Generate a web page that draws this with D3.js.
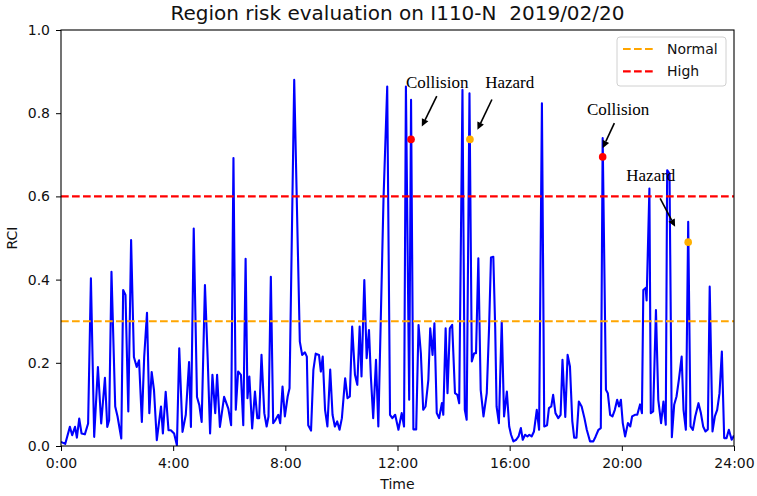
<!DOCTYPE html>
<html>
<head>
<meta charset="utf-8">
<script src="https://cdn.jsdelivr.net/npm/d3@7"></script>
<style>
  body { margin: 0; background: #fff; }
  svg { display: block; font-family: "DejaVu Sans", sans-serif; }
</style>
</head>
<body>
<svg id="chart" width="757" height="496"></svg>
<script>
// RCI readings for the day: [minutes after midnight, RCI]
const rciReadings = [
  [0,0.01],[9,0.005],[19,0.046],[24,0.026],[30,0.046],[34,0.02],[39,0.066],[44,0.03],[51,0.028],[58,0.054],
  [64,0.403],[71,0.022],[79,0.19],[86,0.054],[94,0.164],[99,0.046],[103,0.062],[108,0.419],[116,0.095],[121,0.071],
  [129,0.018],[133,0.375],[138,0.363],[144,0.083],[150,0.495],[156,0.214],[162,0.19],[167,0.206],[173,0.058],[178,0.214],
  [184,0.32],[189,0.079],[194,0.178],[199,0.134],[205,0.014],[214,0.095],[218,0.03],[224,0.13],[230,0.038],[235,0.038],
  [242,0.03],[248,0.002],[253,0.235],[260,0.034],[267,0.075],[274,0.202],[278,0.046],[284,0.523],[291,0.118],[296,0.098],
  [301,0.058],[308,0.387],[314,0.206],[319,0.03],[324,0.171],[330,0.079],[334,0.171],[340,0.046],[349,0.118],[358,0.09],
  [364,0.05],[369,0.692],[374,0.087],[379,0.179],[385,0.171],[390,0.05],[395,0.45],[399,0.115],[403,0.167],[409,0.042],
  [415,0.131],[420,0.067],[424,0.067],[429,0.219],[435,0.079],[440,0.047],[444,0.071],[449,0.407],[454,0.055],[459,0.063],
  [465,0.075],[469,0.055],[474,0.143],[479,0.071],[485,0.119],[489,0.139],[499,0.88],[511,0.251],[516,0.219],[522,0.225],
  [526,0.215],[529,0.05],[535,0.037],[540,0.183],[545,0.222],[552,0.219],[556,0.179],[560,0.215],[565,0.087],[570,0.047],
  [576,0.184],[581,0.075],[586,0.047],[591,0.059],[596,0.039],[601,0.067],[608,0.163],[613,0.115],[618,0.119],[623,0.287],
  [629,0.171],[634,0.147],[639,0.287],[643,0.167],[649,0.399],[654,0.211],[659,0.279],[663,0.167],[668,0.067],[674,0.207],
  [679,0.047],[690,0.591],[698,0.864],[704,0.075],[709,0.067],[715,0.075],[722,0.039],[729,0.079],[734,0.047],[738,0.864],
  [745,0.111],[749,0.832],[754,0.04],[760,0.04],[765,0.291],[770,0.223],[775,0.087],[780,0.095],[786,0.159],[790,0.283],
  [795,0.219],[799,0.295],[804,0.079],[809,0.067],[815,0.103],[818,0.075],[823,0.283],[827,0.127],[832,0.283],[837,0.291],
  [843,0.127],[848,0.123],[852,0.103],[859,0.856],[864,0.087],[868,0.063],[874,0.848],[879,0.203],[884,0.223],[888,0.223],
  [893,0.451],[898,0.135],[904,0.071],[911,0.127],[916,0.287],[920,0.453],[925,0.455],[929,0.287],[932,0.095],[937,0.055],
  [943,0.299],[948,0.071],[954,0.131],[959,0.047],[963,0.027],[968,0.011],[974,0.015],[979,0.023],[984,0.043],[988,0.015],
  [993,0.027],[998,0.023],[1002,0.027],[1007,0.023],[1012,0.035],[1018,0.087],[1023,0.039],[1029,0.824],[1034,0.047],[1040,0.05],
  [1044,0.091],[1049,0.095],[1053,0.123],[1058,0.079],[1064,0.067],[1069,0.075],[1073,0.207],[1079,0.07],[1084,0.219],[1089,0.191],
  [1094,0.06],[1098,0.02],[1103,0.02],[1108,0.107],[1114,0.095],[1120,0.067],[1125,0.039],[1132,0.011],[1139,0.011],[1144,0.023],
  [1150,0.039],[1155,0.043],[1159,0.74],[1166,0.135],[1170,0.127],[1175,0.075],[1180,0.071],[1185,0.087],[1190,0.111],[1194,0.095],
  [1198,0.111],[1202,0.055],[1207,0.023],[1213,0.055],[1218,0.047],[1222,0.071],[1228,0.075],[1233,0.075],[1239,0.1],[1243,0.079],
  [1246,0.375],[1251,0.38],[1253,0.35],[1259,0.619],[1262,0.079],[1267,0.083],[1273,0.327],[1278,0.111],[1284,0.055],[1289,0.107],
  [1294,0.051],[1297,0.663],[1302,0.655],[1307,0.021],[1312,0.099],[1317,0.119],[1322,0.159],[1328,0.215],[1332,0.087],[1337,0.039],
  [1342,0.539],[1347,0.047],[1352,0.039],[1357,0.071],[1364,0.103],[1369,0.08],[1374,0.047],[1379,0.035],[1384,0.04],[1388,0.383],
  [1394,0.035],[1399,0.071],[1404,0.087],[1409,0.127],[1414,0.227],[1419,0.019],[1424,0.019],[1429,0.039],[1435,0.015],[1440,0.025]
];

// Axis ticks
const xTickMinutes = [0, 240, 480, 720, 960, 1200, 1440];
const xTickLabels = ["0:00", "4:00", "8:00", "12:00", "16:00", "20:00", "24:00"];
const yTickValues = [0.0, 0.2, 0.4, 0.6, 0.8, 1.0];

// Risk thresholds
const thresholdNames = ["Normal", "High"];
const thresholdValues = [0.3, 0.6];
const thresholdColors = ["orange", "red"];

// Detected events on the RCI curve
const eventLabels = ["Collision", "Hazard", "Collision", "Hazard"];
const eventMinutes = [749, 875, 1159, 1342];
const eventRci = [0.737, 0.737, 0.695, 0.49];
const eventColors = ["red", "#ffb000", "red", "#ffb000"];

// Annotation text anchors and arrows, in data units
const labelMinutes = [805, 960, 1192, 1262];
const labelRci = [0.873, 0.875, 0.81, 0.651];
const arrowFromMinutes = [804, 922, 1184, 1282];
const arrowFromRci = [0.841, 0.833, 0.776, 0.595];
const arrowToMinutes = [772, 891, 1159, 1314];
const arrowToRci = [0.768, 0.76, 0.716, 0.527];

const svg = d3.select("#chart");
const W = 757, H = 496;
const margin = { top: 30, right: 23, bottom: 50, left: 61 };
const iw = W - margin.left - margin.right;
const ih = H - margin.top - margin.bottom;

const x = d3.scaleLinear().domain([0, 1440]).range([0, iw]);
const y = d3.scaleLinear().domain([0, 1]).range([ih, 0]);

const g = svg.append("g").attr("transform", `translate(${margin.left},${margin.top})`);

svg.append("defs").append("clipPath").attr("id", "plot-clip")
  .append("rect").attr("width", iw).attr("height", ih);

// Axes
const xAxis = g.append("g").attr("transform", `translate(0,${ih})`)
  .call(d3.axisBottom(x).tickValues(xTickMinutes)
    .tickFormat((d, i) => xTickLabels[i]).tickSize(5).tickSizeOuter(0).tickPadding(7));
const yAxis = g.append("g")
  .call(d3.axisLeft(y).tickValues(yTickValues)
    .tickFormat(d3.format(".1f")).tickSize(5).tickSizeOuter(0).tickPadding(6));
[xAxis, yAxis].forEach(a => {
  a.select(".domain").remove();
  a.selectAll(".tick line").attr("stroke", "#000").attr("stroke-width", 1);
  a.selectAll(".tick text").attr("fill", "#111").style("font-size", "14px")
    .style("font-family", "'DejaVu Sans', sans-serif");
});

// RCI curve
const line = d3.line().x(d => x(d[0])).y(d => y(d[1]));
g.append("path").datum(rciReadings)
  .attr("clip-path", "url(#plot-clip)")
  .attr("fill", "none").attr("stroke", "blue")
  .attr("stroke-width", 2.1).attr("stroke-linejoin", "round")
  .attr("d", line);

// Threshold lines
g.selectAll(".threshold").data(thresholdValues).join("line")
  .attr("class", "threshold")
  .attr("x1", 0).attr("x2", iw)
  .attr("y1", d => y(d)).attr("y2", d => y(d))
  .attr("stroke", (d, i) => thresholdColors[i])
  .attr("stroke-width", 2.1)
  .attr("stroke-dasharray", "7.7,3.3");

// Event markers
g.selectAll(".event").data(eventMinutes).join("circle")
  .attr("class", "event")
  .attr("cx", d => x(d))
  .attr("cy", (d, i) => y(eventRci[i]))
  .attr("r", 3.8)
  .attr("fill", (d, i) => eventColors[i]);

// Frame
g.append("rect").attr("width", iw).attr("height", ih)
  .attr("fill", "none").attr("stroke", "#000").attr("stroke-width", 1.1);

// Annotations with arrows
eventLabels.forEach((lab, i) => {
  const x1 = x(arrowFromMinutes[i]), y1 = y(arrowFromRci[i]);
  const x2 = x(arrowToMinutes[i]), y2 = y(arrowToRci[i]);
  const ang = Math.atan2(y2 - y1, x2 - x1);
  const hl = 7.5, hw = 3.6;
  const bx = x2 - hl * Math.cos(ang), by = y2 - hl * Math.sin(ang);
  g.append("line")
    .attr("x1", x1).attr("y1", y1).attr("x2", bx).attr("y2", by)
    .attr("stroke", "#000").attr("stroke-width", 1.6);
  g.append("path")
    .attr("d", `M${x2},${y2}L${bx - hw * Math.sin(ang)},${by + hw * Math.cos(ang)}L${bx + hw * Math.sin(ang)},${by - hw * Math.cos(ang)}Z`)
    .attr("fill", "#000");
  g.append("text")
    .attr("x", x(labelMinutes[i])).attr("y", y(labelRci[i]))
    .attr("text-anchor", "middle").attr("dominant-baseline", "central")
    .style("font-family", "'Liberation Serif', 'Times New Roman', serif")
    .style("font-size", "17px").attr("fill", "#000")
    .text(lab);
});

// Legend
const legend = g.append("g").attr("transform", `translate(${iw - 117},7)`);
legend.append("rect").attr("width", 109).attr("height", 49)
  .attr("rx", 3).attr("fill", "#fff").attr("fill-opacity", 0.8)
  .attr("stroke", "#d0d0d0").attr("stroke-width", 1);
thresholdNames.forEach((name, i) => {
  const ly = 12 + i * 22.4;
  legend.append("line").attr("x1", 6).attr("x2", 36).attr("y1", ly).attr("y2", ly)
    .attr("stroke", thresholdColors[i]).attr("stroke-width", 2.1)
    .attr("stroke-dasharray", "7.7,3.3");
  legend.append("text").attr("x", 50).attr("y", ly)
    .attr("dominant-baseline", "central").style("font-size", "14px").attr("fill", "#111")
    .text(name);
});

// Title and axis labels
svg.append("text")
  .attr("x", margin.left + iw / 2).attr("y", 20)
  .attr("text-anchor", "middle").style("font-size", "20px").style("white-space", "pre")
  .attr("fill", "#111")
  .text("Region risk evaluation on I110-N  2019/02/20");
svg.append("text")
  .attr("x", margin.left + iw / 2).attr("y", 489)
  .attr("text-anchor", "middle").style("font-size", "14px").attr("fill", "#111")
  .text("Time");
svg.append("text")
  .attr("transform", `translate(17,${margin.top + ih / 2}) rotate(-90)`)
  .attr("text-anchor", "middle").style("font-size", "14px").attr("fill", "#111")
  .text("RCI");
</script>
</body>
</html>
